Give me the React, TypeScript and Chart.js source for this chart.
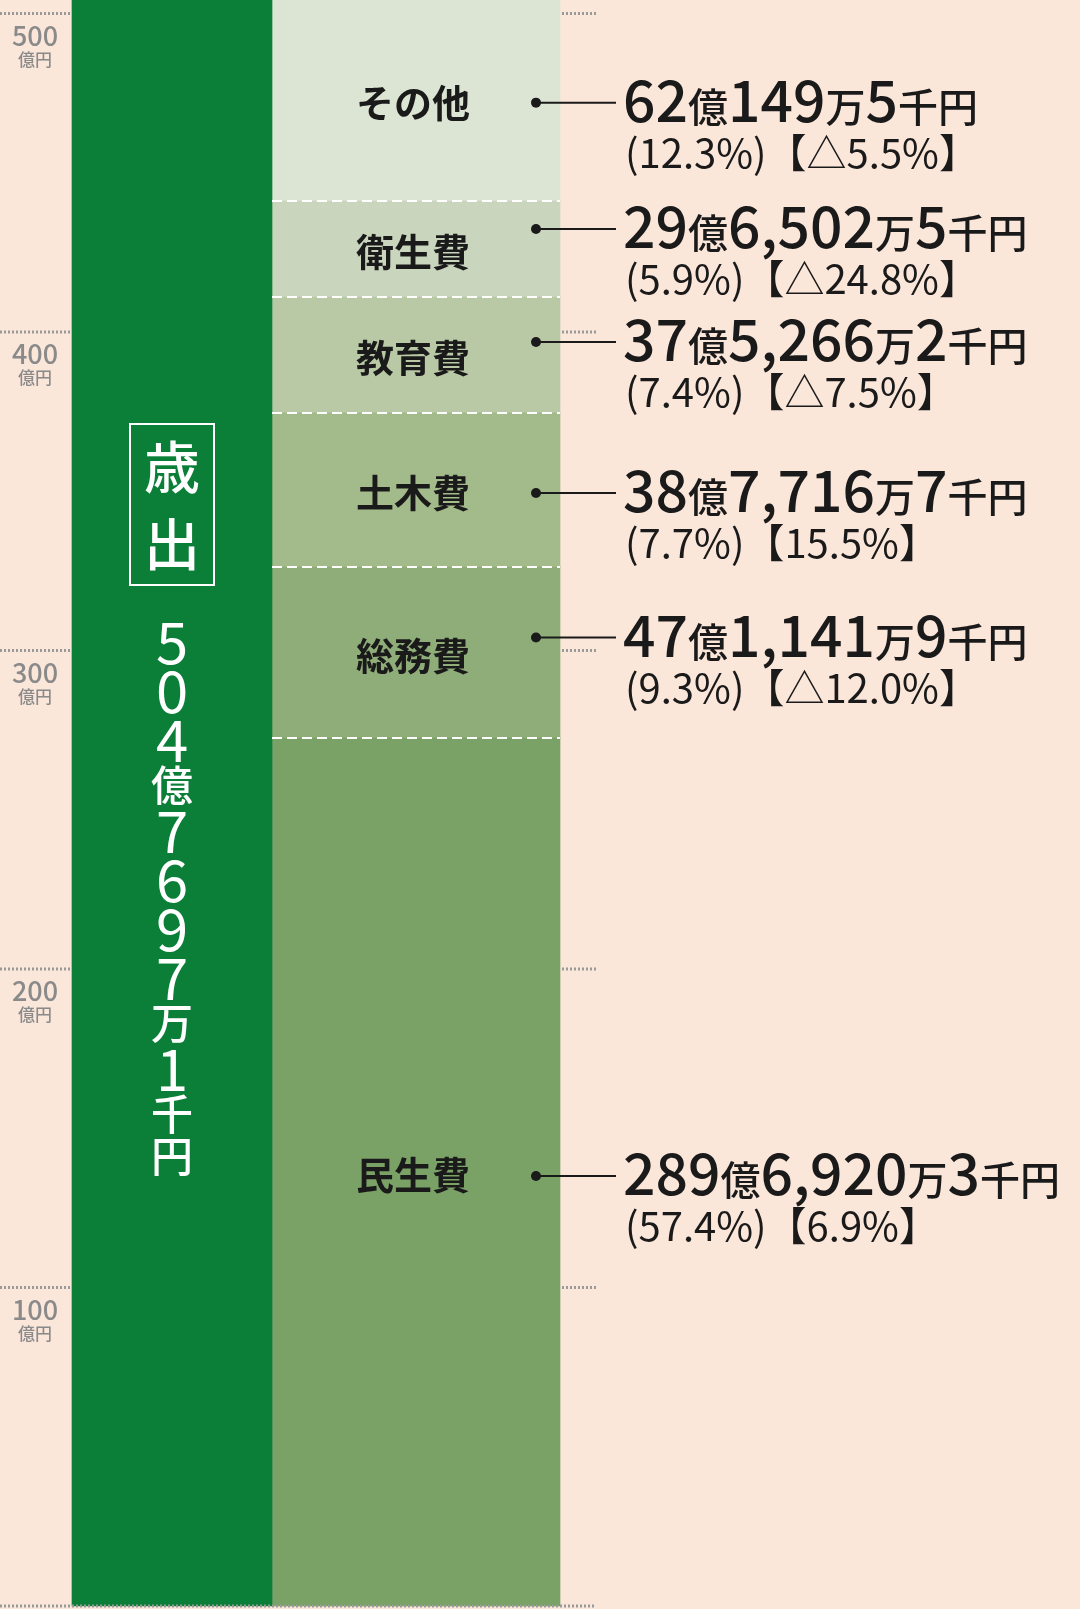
import React, { useRef, useEffect } from 'react';
import { Chart, registerables } from 'chart.js';

Chart.register(...registerables);

// segments from the bottom of the bar to the top (heights in 億円 as drawn)
const categories = ['民生費', '総務費', '土木費', '教育費', '衛生費', 'その他'];
const segmentValues = [272.5, 53.7, 48.4, 36.4, 30.1, 63.7];
const amountLabels = [
  '289億6,920万3千円',
  '47億1,141万9千円',
  '38億7,716万7千円',
  '37億5,266万2千円',
  '29億6,502万5千円',
  '62億149万5千円',
];
const shareLabels = [
  '(57.4%)【6.9%】',
  '(9.3%)【△12.0%】',
  '(7.7%)【15.5%】',
  '(7.4%)【△7.5%】',
  '(5.9%)【△24.8%】',
  '(12.3%)【△5.5%】',
];
const totalTitle = '歳出';
const totalValue = 504.77;
const totalLabel = '504億7697万1千円';
const yTicks = [100, 200, 300, 400, 500];
const tickUnit = '億円';

const segmentColors = ['#7aa267', '#8fad78', '#a3bb8b', '#b9c9a6', '#c9d6bd', '#dce5d3'];
const totalColor = '#0b7f38';
const FONT = '"Noto Sans CJK JP", "Noto Sans", sans-serif';
// callout dot offset from the segment middle
const calloutShift = [4, -15, 3, -13, -20, 3];

function drawMixed(ctx: CanvasRenderingContext2D, text: string, x: number, y: number, big: string, small: string) {
  let cx = x;
  for (const ch of text) {
    ctx.font = /[0-9,]/.test(ch) ? big : small;
    ctx.fillText(ch, cx, y);
    cx += ctx.measureText(ch).width;
  }
}

const overlayPlugin = {
  id: 'overlay',
  afterDatasetsDraw(chart: any) {
    const { ctx } = chart;
    const yScale = chart.scales.y;
    const total = chart.getDatasetMeta(0).data[0].getProps(['x', 'y', 'base', 'width'], true);
    const parts = categories.map((_, i) =>
      chart.getDatasetMeta(i + 1).data[1].getProps(['x', 'y', 'base', 'width'], true)
    );
    const partLeft = parts[0].x - parts[0].width / 2;
    const partRight = parts[0].x + parts[0].width / 2;
    const totalLeft = total.x - total.width / 2;

    ctx.save();

    // dotted tick lines and labels
    ctx.strokeStyle = '#9a9a9a';
    ctx.lineWidth = 3;
    ctx.setLineDash([2, 2]);
    yTicks.forEach((v) => {
      const py = yScale.getPixelForValue(v);
      ctx.beginPath();
      ctx.moveTo(0, py);
      ctx.lineTo(totalLeft - 2, py);
      ctx.moveTo(partRight + 2, py);
      ctx.lineTo(partRight + 36, py);
      ctx.stroke();
      ctx.fillStyle = '#8a8a8a';
      ctx.textAlign = 'center';
      ctx.textBaseline = 'middle';
      ctx.font = `500 27px ${FONT}`;
      ctx.fillText(String(v), 35, py + 22);
      ctx.font = `500 17px ${FONT}`;
      ctx.fillText(tickUnit, 35, py + 46);
    });
    const p0 = yScale.getPixelForValue(0);
    ctx.beginPath();
    ctx.moveTo(0, p0);
    ctx.lineTo(partRight + 36, p0);
    ctx.stroke();

    // white dashed separators
    ctx.strokeStyle = '#ffffff';
    ctx.lineWidth = 2;
    ctx.setLineDash([10, 5]);
    parts.slice(0, -1).forEach((p) => {
      ctx.beginPath();
      ctx.moveTo(partLeft, p.y);
      ctx.lineTo(partRight, p.y);
      ctx.stroke();
    });
    ctx.setLineDash([]);

    // segment names and callouts
    parts.forEach((p, i) => {
      const mid = (p.y + p.base) / 2;
      ctx.fillStyle = '#1a1a1a';
      ctx.textAlign = 'center';
      ctx.textBaseline = 'middle';
      ctx.font = `700 38px ${FONT}`;
      ctx.fillText(categories[i], p.x - 3, mid + 3);

      const dy = mid + calloutShift[i];
      const dotX = partRight - 24;
      ctx.beginPath();
      ctx.arc(dotX, dy, 5, 0, Math.PI * 2);
      ctx.fill();
      ctx.strokeStyle = '#1a1a1a';
      ctx.lineWidth = 2;
      ctx.beginPath();
      ctx.moveTo(dotX, dy);
      ctx.lineTo(partRight + 56, dy);
      ctx.stroke();

      ctx.textAlign = 'left';
      ctx.textBaseline = 'alphabetic';
      drawMixed(ctx, amountLabels[i], partRight + 63, dy + 19, `500 57px ${FONT}`, `500 40px ${FONT}`);
      ctx.font = `400 40px ${FONT}`;
      ctx.fillText(shareLabels[i], partRight + 65, dy + 51 + 14);
    });

    // vertical total label
    ctx.fillStyle = '#ffffff';
    ctx.strokeStyle = '#ffffff';
    ctx.lineWidth = 2;
    ctx.strokeRect(total.x - 42, 424, 84, 161);
    ctx.textAlign = 'center';
    ctx.textBaseline = 'middle';
    ctx.font = `500 56px ${FONT}`;
    [...totalTitle].forEach((ch, i) => ctx.fillText(ch, total.x, 467 + i * 77));

    let cy = 642;
    let prev = 0;
    [...totalLabel].forEach((ch, i) => {
      const isNum = /[0-9]/.test(ch);
      const adv = isNum ? 49 : 42;
      if (i > 0) cy += (prev + adv) / 2;
      prev = adv;
      ctx.font = isNum ? `400 58px ${FONT}` : `500 42px ${FONT}`;
      ctx.fillText(ch, total.x, cy);
    });

    ctx.restore();
  },
};

const App: React.FC = () => {
  const canvasRef = useRef<HTMLCanvasElement>(null);

  useEffect(() => {
    if (!canvasRef.current) return;
    const chart = new Chart(canvasRef.current, {
      type: 'bar',
      data: {
        labels: ['total', 'parts'],
        datasets: [
          {
            label: totalTitle,
            data: [totalValue, null],
            backgroundColor: totalColor,
            barThickness: 200,
            clip: false as any,
          },
          ...categories.map((c, i) => ({
            label: c,
            data: [null, segmentValues[i]],
            backgroundColor: segmentColors[i],
            barThickness: 288,
            clip: false as any,
          })),
        ],
      },
      options: {
        responsive: false,
        animation: false,
        layout: { padding: { left: 50, right: 542, top: 13.5, bottom: 3 } },
        plugins: { legend: { display: false }, tooltip: { enabled: false } },
        scales: {
          x: { stacked: true, display: false },
          y: { stacked: true, display: false, min: 0, max: 500 },
        },
      },
      plugins: [overlayPlugin],
    });
    return () => chart.destroy();
  }, []);

  return (
    <div style={{ position: 'absolute', left: 0, top: 0, width: 1080, height: 1609, background: '#fbe6da' }}>
      <canvas ref={canvasRef} width={1080} height={1609} />
    </div>
  );
};

export default App;
